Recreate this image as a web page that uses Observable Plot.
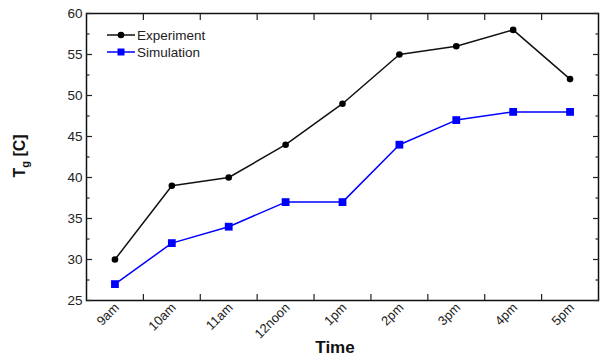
<!DOCTYPE html>
<html>
<head>
<meta charset="utf-8">
<script src="https://cdn.jsdelivr.net/npm/d3@7"></script>
<script src="https://cdn.jsdelivr.net/npm/@observablehq/plot@0.6"></script>
<style>
  html, body { margin: 0; padding: 0; background: #fff; }
  #chart { width: 600px; height: 360px; }
</style>
</head>
<body>
<div id="chart"></div>
<script>
const times = ["9am", "10am", "11am", "12noon", "1pm", "2pm", "3pm", "4pm", "5pm"];
const experiment = [30, 39, 40, 44, 49, 55, 56, 58, 52];
const simulation = [27, 32, 34, 37, 37, 44, 47, 48, 48];
const yTicks = [25, 30, 35, 40, 45, 50, 55, 60];
const yMinorTicks = [27.5, 32.5, 37.5, 42.5, 47.5, 52.5, 57.5];

const idx = times.map((_, i) => i);
const boundaries = idx.slice(1).map(i => i - 0.5);
const rows = times.map((t, i) => ({i, t, e: experiment[i], s: simulation[i]}));

const font = "Liberation Sans, Arial, sans-serif";

const plot = Plot.plot({
  width: 600,
  height: 360,
  marginLeft: 86,
  marginRight: 2,
  marginTop: 13,
  marginBottom: 60,
  style: {fontFamily: font, fontSize: "13px", background: "#fff", color: "#222"},
  x: {type: "linear", domain: [-0.5, times.length - 0.5]},
  y: {domain: [25, 60]},
  marks: [
    Plot.frame({stroke: "#111", strokeWidth: 1.5}),
    // labels
    Plot.axisY({ticks: yTicks, tickSize: 0, tickPadding: 4, label: null, fontSize: 13.5, fill: "#222"}),
    Plot.axisX({ticks: idx, tickSize: 0, tickPadding: 5, tickRotate: -45, label: null,
      tickFormat: i => times[i], fontSize: 13, fill: "#222", dx: 2}),
    // inward ticks
    Plot.axisY({anchor: "left", ticks: yTicks, tickSize: -6, text: null, label: null, strokeWidth: 1.2}),
    Plot.axisY({anchor: "left", ticks: yMinorTicks, tickSize: -3.5, text: null, label: null, strokeWidth: 1.2}),
    Plot.axisY({anchor: "right", ticks: yTicks, tickSize: -6, text: null, label: null, strokeWidth: 1.2}),
    Plot.axisY({anchor: "right", ticks: yMinorTicks, tickSize: -3.5, text: null, label: null, strokeWidth: 1.2}),
    Plot.axisX({anchor: "bottom", ticks: boundaries, tickSize: -6, text: null, label: null, strokeWidth: 1.2}),
    Plot.axisX({anchor: "top", ticks: boundaries, tickSize: -6, text: null, label: null, strokeWidth: 1.2}),
    // series
    Plot.line(rows, {x: "i", y: "e", stroke: "#111", strokeWidth: 1.5}),
    Plot.dot(rows, {x: "i", y: "e", r: 3.3, fill: "#000", stroke: "none"}),
    Plot.line(rows, {x: "i", y: "s", stroke: "#0000ff", strokeWidth: 1.5}),
    Plot.dot(rows, {x: "i", y: "s", symbol: "square", r: 4.4, fill: "#0000ff", stroke: "none"})
  ]
});

document.getElementById("chart").appendChild(plot);

// axis titles and legend
const svg = d3.select(plot);
svg.append("text")
  .attr("x", 335).attr("y", 353)
  .attr("text-anchor", "middle")
  .attr("font-family", font).attr("font-size", 17).attr("font-weight", "bold").attr("fill", "#111")
  .text("Time");

const yl = svg.append("text")
  .attr("transform", "translate(25,156) rotate(-90)")
  .attr("text-anchor", "middle")
  .attr("font-family", font).attr("font-size", 16).attr("font-weight", "bold").attr("fill", "#111");
yl.append("tspan").text("T");
yl.append("tspan").attr("font-size", 11).attr("dy", 4).text("g");
yl.append("tspan").attr("dy", -4).text(" [C]");

const legend = [
  {label: "Experiment", color: "#111", fill: "#000", symbol: "circle", y: 35},
  {label: "Simulation", color: "#0000ff", fill: "#0000ff", symbol: "square", y: 52}
];
const lg = svg.append("g");
legend.forEach(d => {
  lg.append("line").attr("x1", 107).attr("x2", 135).attr("y1", d.y).attr("y2", d.y)
    .attr("stroke", d.color).attr("stroke-width", 1.5);
  if (d.symbol === "circle") {
    lg.append("circle").attr("cx", 121).attr("cy", d.y).attr("r", 3.3).attr("fill", d.fill);
  } else {
    lg.append("rect").attr("x", 117.5).attr("y", d.y - 3.5).attr("width", 7).attr("height", 7).attr("fill", d.fill);
  }
  lg.append("text").attr("x", 137).attr("y", d.y).attr("dy", "0.35em")
    .attr("text-anchor", "start")
    .attr("font-family", font).attr("font-size", 13.5).attr("fill", "#222").text(d.label);
});
</script>
</body>
</html>
